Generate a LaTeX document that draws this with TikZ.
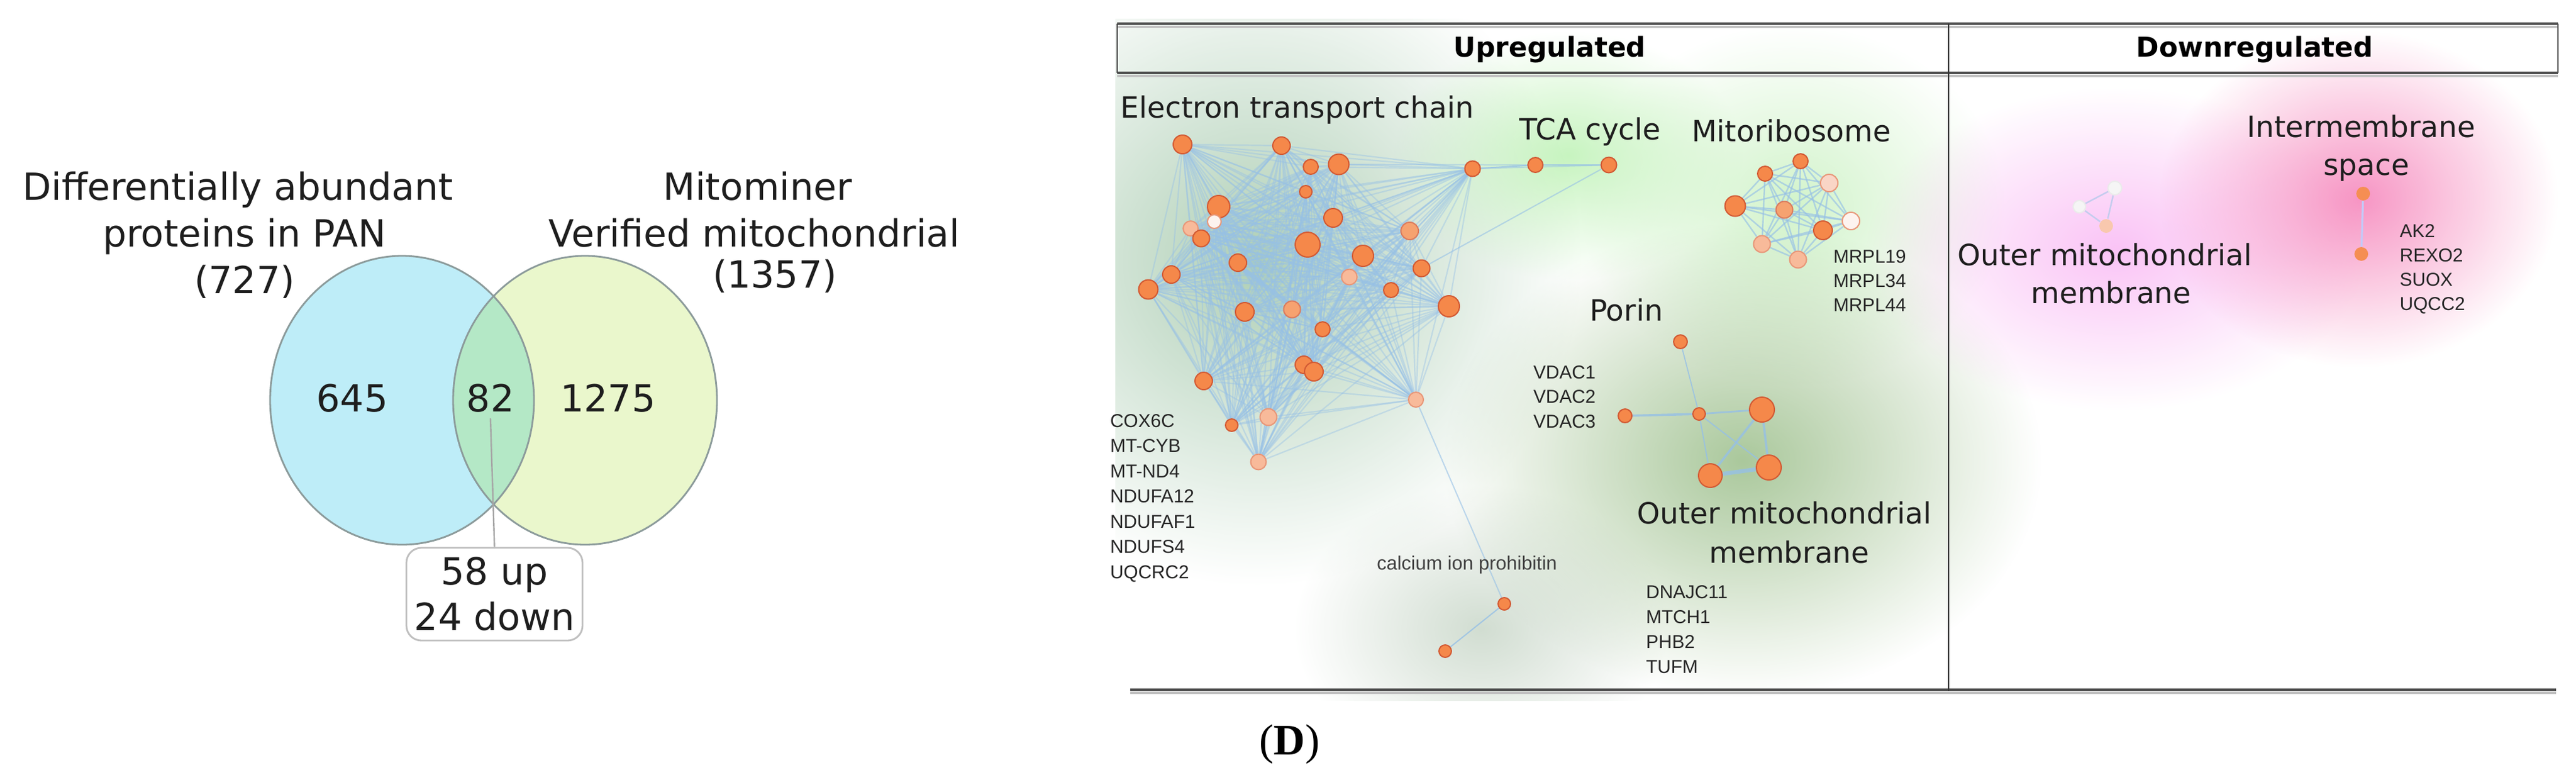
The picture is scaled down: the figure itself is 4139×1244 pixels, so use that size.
\documentclass[tikz,border=0pt]{standalone}
\usepackage{fontspec}
\setmainfont{DejaVu Sans}
\newfontfamily\genefont{Liberation Sans}
\newfontfamily\serifD{Liberation Serif}
\usetikzlibrary{fadings}
\pgfdeclarelayer{glowl}
\pgfdeclarelayer{edgel}
\pgfsetlayers{glowl,edgel,main}

\definecolor{vblue}{RGB}{190,237,248}
\definecolor{vgreen}{RGB}{234,247,204}
\definecolor{vinter}{RGB}{180,232,198}
\definecolor{vborder}{RGB}{140,155,155}
\definecolor{norange}{RGB}{245,136,74}
\definecolor{nborder}{RGB}{210,90,52}
\definecolor{nlight}{RGB}{248,186,154}
\definecolor{nlightb}{RGB}{232,150,120}
\definecolor{nvlight}{RGB}{249,213,198}
\definecolor{nwhite}{RGB}{253,243,239}
\definecolor{nmed}{RGB}{246,162,112}
\definecolor{eblue}{RGB}{150,192,230}
\definecolor{framec}{RGB}{75,75,75}
\definecolor{shadowc}{RGB}{195,195,195}
\definecolor{gETC}{RGB}{160,198,168}
\definecolor{gTCA}{RGB}{180,240,170}
\definecolor{gMITO}{RGB}{190,238,180}
\definecolor{gPOR}{RGB}{155,190,138}
\definecolor{gCAL}{RGB}{178,198,178}
\definecolor{gOMMd}{RGB}{248,175,242}
\definecolor{gIMS}{RGB}{245,130,185}
\definecolor{labc}{RGB}{30,30,30}
\definecolor{lavedge}{RGB}{196,204,238}

\tikzfading[name=glowfade, inner color=transparent!0, outer color=transparent!100]
\newcommand{\glowspot}[6]{%
  \fill[#5, path fading=glowfade, fill opacity=#6] (#1,#2) ellipse [x radius={#3*0.25pt}, y radius={#4*0.25pt}];}

\tikzset{
  nd/.style={circle, inner sep=0pt, line width=0.5pt},
  ndo/.style={nd, fill=norange, draw=nborder},
  ndm/.style={nd, fill=nmed, draw=nborder!80},
  ndl/.style={nd, fill=nlight, draw=nlightb},
  ndv/.style={nd, fill=nvlight, draw=nlightb},
  ndw/.style={nd, fill=nwhite, draw=nlightb},
  etcedge/.style={draw=eblue, line width=0.55pt, opacity=0.42},
  thinedge/.style={draw=eblue, line width=0.5pt, opacity=0.8},
  mitoedge/.style={draw=eblue, line width=0.6pt, opacity=0.65},
  vtxt/.style={font=\fontsize{15pt}{18pt}\selectfont, anchor=base, inner sep=0pt, text=labc},
  clab/.style={font=\fontsize{11.75pt}{14pt}\selectfont, anchor=base, inner sep=0pt, text=labc},
  hdr/.style={font=\bfseries\fontsize{11pt}{13pt}\selectfont, anchor=base, inner sep=0pt, text=black},
  gene/.style={font=\genefont\fontsize{7.5pt}{9pt}\selectfont, anchor=base west, inner sep=0pt, text=black!85},
  frameline/.style={draw=framec, line width=1.1pt},
  shadowline/.style={draw=shadowc, line width=1pt},
}

\begin{document}
\begin{tikzpicture}[x=0.25pt, y=-0.25pt]
\useasboundingbox (0,0) rectangle (4139,1244);

%================ VENN ================
\fill[vblue] (646,643) ellipse [x radius=53pt, y radius=58pt];
\fill[vgreen] (940,643) ellipse [x radius=53pt, y radius=58pt];
\begin{scope}
  \clip (646,643) ellipse [x radius=53pt, y radius=58pt];
  \fill[vinter] (940,643) ellipse [x radius=53pt, y radius=58pt];
\end{scope}
\draw[vborder, line width=0.7pt] (646,643) ellipse [x radius=53pt, y radius=58pt];
\draw[vborder, line width=0.7pt] (940,643) ellipse [x radius=53pt, y radius=58pt];

\node[vtxt] (vt1) at (382,321) {Differentially abundant};
\node[vtxt] (vt2) at (393,396) {proteins in PAN};
\node[vtxt] (vt3) at (393,471) {(727)};
\node[vtxt] (vt4) at (1217,321) {Mitominer};
\node[vtxt] (vt5) at (1212,396) {Verified mitochondrial};
\node[vtxt] (vt6) at (1245,462) {(1357)};

\node[vtxt] (n645) at (566,661) {645};
\node[vtxt] (n82) at (788,661) {82};
\node[vtxt] (n1275) at (977,661) {1275};

\node[draw=black!25, line width=0.7pt, rounded corners=6pt, fill=white,
      minimum width=70.75pt, minimum height=37.25pt, inner sep=0pt,
      align=center, font=\fontsize{15pt}{18.25pt}\selectfont, text=labc]
      (bx) at (794.5,954.5) {58 up\\24 down};
\coordinate (c82) at (788,672);
\draw[black!35, line width=0.6pt] (c82) -- (bx.north);

%================ PANEL GLOWS ================
\begin{pgfonlayer}{glowl}
\begin{scope}
  \clip (1792,30) rectangle (4139,1125);
  \glowspot{2020}{420}{520}{520}{gETC}{0.85}
  \glowspot{2520}{250}{280}{200}{gTCA}{0.75}
  \glowspot{2880}{330}{340}{290}{gMITO}{0.7}
  \glowspot{2800}{740}{480}{380}{gPOR}{0.85}
  \glowspot{2380}{1010}{300}{230}{gCAL}{0.6}
  \glowspot{3400}{400}{400}{260}{gOMMd}{0.75}
  \glowspot{3790}{320}{320}{270}{gIMS}{0.85}
\end{scope}
\end{pgfonlayer}

%================ FRAME ================
\draw[shadowline] (1795,43) -- (4110,43);
\draw[shadowline] (1795,122) -- (4110,122);
\draw[shadowline] (1816,1113) -- (4107,1113);
\draw[frameline] (1795,38) -- (4110,38);
\draw[frameline] (1795,117) -- (4110,117);
\draw[frameline] (1816,1108) -- (4107,1108);
\draw[framec, line width=0.7pt] (1795,38) -- (1795,117);
\draw[framec, line width=0.7pt] (4110,38) -- (4110,117);
\draw[black!80, line width=0.7pt] (3131,38) -- (3131,1110);

\node[hdr] (hup) at (2490,91) {Upregulated};
\node[hdr] (hdown) at (3623,91) {Downregulated};

%================ ETC CLUSTER ================
\foreach \n/\x/\y/\r/\s in {
  1/1900/232/15/o, 2/2059/234/14/o, 3/2106/268/12/o, 4/2151/264/16.5/o,
  5/2366/271/12.5/o, 6/2098/308/10/o, 7/1958/332/18/o, 8/1951/356/11/w,
  9/1913/367/12/l, 10/1930/383/13.5/o, 11/2142/350/15/o, 12/2265/371/14/m,
  13/2101/393/20/o, 14/2190/411/17/o, 15/1989/422/14/o, 16/1882/441/14/o,
  17/2284/431/13.5/o, 18/1845/465/15.5/o, 19/2168/445/12.5/l, 20/2235/466/12/o,
  21/2328/492/17/o, 22/2000/501/15/o, 23/2076/497/13.5/m, 24/2125/529/12/o,
  25/2095/586/14/o, 26/2111/597/15/o, 27/1934/612/14/o, 28/2275/642/12/l,
  29/2038/670/13.5/l, 30/1979/683/10/o, 31/2022/742/12.5/l}
  \node[nd\s, minimum size={\r*0.5pt}] (e\n) at (\x,\y) {};

\node[ndo, minimum size=6pt] (t1) at (2467,265) {};
\node[ndo, minimum size=6.25pt] (t2) at (2585,265) {};

\node[ndo, minimum size=5pt] (c1) at (2417,970) {};
\node[ndo, minimum size=5pt] (c2) at (2322,1046) {};

\begin{pgfonlayer}{edgel}
  \foreach \i in {1,...,31}{
    \foreach \j in {\i,...,31}{
      \ifnum\j>\i \draw[etcedge] (e\i) -- (e\j);\fi
    }
  }
  \draw[thinedge] (e5) -- (t1);
  \draw[thinedge, opacity=0.5] (e4) -- (t1);
  \draw[thinedge, opacity=0.5] (e5) -- (t2);
  \draw[thinedge] (t1) -- (t2);
  \draw[thinedge, opacity=0.6] (t2) -- (e17);
  \draw[thinedge, opacity=0.6] (e28) -- (c1);
  \draw[thinedge] (c1) -- (c2);
\end{pgfonlayer}

\node[clab, anchor=base west] (lETC) at (1800,189) {Electron transport chain};
\node[clab] (lTCA) at (2555,224) {TCA cycle};
\node[clab] (lMITO) at (2878,227) {Mitoribosome};
\node[clab] (lPOR) at (2613,515) {Porin};
\node[clab] (lOMMu1) at (2867,841) {Outer mitochondrial};
\node[clab] (lOMMu2) at (2875,904) {membrane};

\foreach \g [count=\i from 0] in {COX6C,MT-CYB,MT-ND4,NDUFA12,NDUFAF1,NDUFS4,UQCRC2}
  \node[gene] (ge\i) at (1783,{686+40.5*\i}) {\g};

\node[font=\genefont\fontsize{7.75pt}{9pt}\selectfont, anchor=base, inner sep=0pt, text=black!75]
  (lCAL) at (2357,915) {calcium ion prohibitin};

%================ MITORIBOSOME ================
\foreach \n/\x/\y/\r/\s in {
  1/2836/279/12/o, 2/2893/259/12/o, 3/2939/294/14/v, 4/2788/331/16.5/o,
  5/2867/337/13.5/m, 6/2974/355/14/w, 7/2929/370/15/o, 8/2831/392/13.5/l,
  9/2889/417/13.5/l}
  \node[nd\s, minimum size={\r*0.5pt}] (m\n) at (\x,\y) {};
\begin{pgfonlayer}{edgel}
  \foreach \i in {1,...,9}{
    \foreach \j in {\i,...,9}{
      \ifnum\j>\i \draw[mitoedge] (m\i) -- (m\j);\fi
    }
  }
\end{pgfonlayer}
\foreach \g [count=\i from 0] in {MRPL19,MRPL34,MRPL44}
  \node[gene] (gm\i) at (2945,{422+39*\i}) {\g};

%================ PORIN / OMM ================
\node[ndo, minimum size=5.5pt] (p1) at (2700,549) {};
\node[ndo, minimum size=5pt] (p2) at (2730,665) {};
\node[ndo, minimum size=5.5pt] (p3) at (2611,668) {};
\node[ndo, minimum size=10pt] (p4) at (2831,658) {};
\node[ndo, minimum size=10pt] (p5) at (2842,751) {};
\node[ndo, minimum size=9.5pt] (p6) at (2748,764) {};
\begin{pgfonlayer}{edgel}
  \draw[thinedge, line width=0.45pt] (p1) -- (p2);
  \draw[thinedge, line width=0.9pt] (p3) -- (p2);
  \draw[thinedge, line width=0.7pt] (p2) -- (p4);
  \draw[thinedge, line width=0.5pt] (p2) -- (p6);
  \draw[thinedge, line width=0.5pt] (p2) -- (p5);
  \draw[thinedge, line width=0.9pt] (p4) -- (p6);
  \draw[thinedge, line width=0.9pt] (p4) -- (p5);
  \draw[thinedge, line width=1.6pt] (p6) -- (p5);
\end{pgfonlayer}
\foreach \g [count=\i from 0] in {VDAC1,VDAC2,VDAC3}
  \node[gene] (gv\i) at (2463,{608+39.5*\i}) {\g};
\foreach \g [count=\i from 0] in {DNAJC11,MTCH1,PHB2,TUFM}
  \node[gene] (gd\i) at (2644,{961+40*\i}) {\g};

%================ DOWNREGULATED ================
\node[nd, fill=black!4, draw=black!8, minimum size=5pt] (d1) at (3341,332) {};
\node[nd, fill=black!4, draw=black!8, minimum size=5.5pt] (d2) at (3398,302) {};
\node[nd, fill=nlight!80, draw=none, minimum size=5.5pt] (d3) at (3384,363) {};
\begin{pgfonlayer}{edgel}
  \draw[lavedge, line width=0.6pt] (d1) -- (d2);
  \draw[lavedge, line width=0.6pt] (d1) -- (d3);
  \draw[lavedge, line width=0.6pt] (d2) -- (d3);
\end{pgfonlayer}
\node[nd, fill=norange!95!white, draw=none, minimum size=5.5pt] (i1) at (3797,311) {};
\node[nd, fill=norange!95!white, draw=none, minimum size=5.5pt] (i2) at (3794,408) {};
\begin{pgfonlayer}{edgel}
  \draw[lavedge!80!blue!60!white, line width=0.8pt] (i1) -- (i2);
\end{pgfonlayer}

\node[clab] (lIMS1) at (3794,220) {Intermembrane};
\node[clab] (lIMS2) at (3802,281) {space};
\node[clab] (lOMMd1) at (3382,426) {Outer mitochondrial};
\node[clab] (lOMMd2) at (3392,487) {membrane};

\foreach \g [count=\i from 0] in {AK2,REXO2,SUOX,UQCC2}
  \node[gene] (gi\i) at (3855,{381+39*\i}) {\g};

%================ LABEL (D) ================
\node[font=\serifD\fontsize{17.5pt}{20pt}\selectfont, anchor=base, inner sep=0pt]
  (lblD) at (2072,1212) {(\textbf{D})};
\end{tikzpicture}
\end{document}
